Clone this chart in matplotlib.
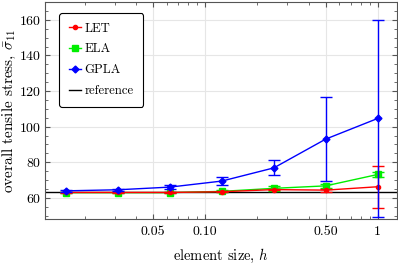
import matplotlib
matplotlib.use("Agg")
import matplotlib.pyplot as plt
from matplotlib.lines import Line2D
from matplotlib.ticker import AutoMinorLocator, FixedLocator, NullFormatter

plt.rcParams['font.family'] = 'serif'
plt.rcParams['font.serif'] = ['cmr10']
plt.rcParams['mathtext.fontset'] = 'cm'
plt.rcParams['axes.formatter.use_mathtext'] = True

# element sizes
h = [1, 0.5, 0.25, 0.125, 0.0625, 0.03125, 0.015625]

# overall tensile stress, mean and error
let_mean = [66.2, 64.3, 64.6, 63.4, 63.0, 63.0, 63.0]
let_err = [11.7, 0.8, 0.5, 0.3, 0.2, 0.2, 0.2]
ela_mean = [73.1, 66.7, 65.3, 63.6, 62.9, 62.9, 62.9]
ela_err = [1.5, 1.0, 1.5, 0.5, 0.3, 0.3, 0.3]
gpla_mean = [104.6, 93.0, 76.8, 69.4, 66.0, 64.5, 63.9]
gpla_err = [55.4, 23.4, 4.2, 2.0, 1.0, 0.6, 0.4]
reference = 63.2

fig = plt.figure(figsize=(3.98, 2.64), dpi=100)
ax = fig.add_axes([0.113, 0.17, 0.884, 0.822])

ax.errorbar(h, let_mean, yerr=let_err, color='red', marker='o', ms=3,
            lw=1, capsize=4, elinewidth=1, zorder=3)
ax.errorbar(h, ela_mean, yerr=ela_err, color='#00ee00', marker='s', ms=4,
            lw=1, capsize=4, elinewidth=1, zorder=2)
ax.errorbar(h, gpla_mean, yerr=gpla_err, color='blue', marker='D', ms=3.5,
            lw=1, capsize=4, elinewidth=1, zorder=4)
ax.axhline(reference, color='black', lw=1, zorder=1)

ax.set_xscale('log')
ax.set_xlim(0.0118, 1.29)
ax.set_ylim(48, 170)

ax.xaxis.set_major_locator(FixedLocator([0.05, 0.1, 0.5, 1]))
ax.set_xticklabels(['0.05', '0.10', '0.50', '1'])
ax.xaxis.set_minor_formatter(NullFormatter())
ax.set_yticks([60, 80, 100, 120, 140, 160])
ax.yaxis.set_minor_locator(AutoMinorLocator(4))

ax.grid(True, which='major', color='#e6e6e6', lw=0.8)
ax.set_axisbelow(True)
ax.tick_params(which='both', direction='in', top=True, right=True,
               color='#555555', labelsize=10)
ax.tick_params(which='major', length=3.5)
ax.tick_params(which='minor', length=2)
ax.tick_params(axis='y', pad=2.5)
ax.tick_params(axis='x', pad=5)
for s in ax.spines.values():
    s.set_color('#555555')

ax.set_xlabel('element size, $h$', fontsize=10.5, labelpad=6)
ax.set_ylabel(r'overall tensile stress, $\bar{\sigma}_{11}$', fontsize=11,
              labelpad=1)

handles = [
    Line2D([], [], color='red', marker='o', ms=3, lw=1),
    Line2D([], [], color='#00ee00', marker='s', ms=4, lw=1),
    Line2D([], [], color='blue', marker='D', ms=3.5, lw=1),
    Line2D([], [], color='black', lw=1),
]
leg = ax.legend(handles, ['LET', 'ELA', 'GPLA', 'reference'],
                loc='upper left', fontsize=9.2, fancybox=True, framealpha=1,
                edgecolor='black', bbox_to_anchor=(0.04, 0.95),
                handlelength=1.0, handletextpad=0.25, borderpad=0.75,
                labelspacing=0.68, borderaxespad=0)
leg.get_frame().set_linewidth(0.8)

fig.savefig('out.png', dpi=100)
